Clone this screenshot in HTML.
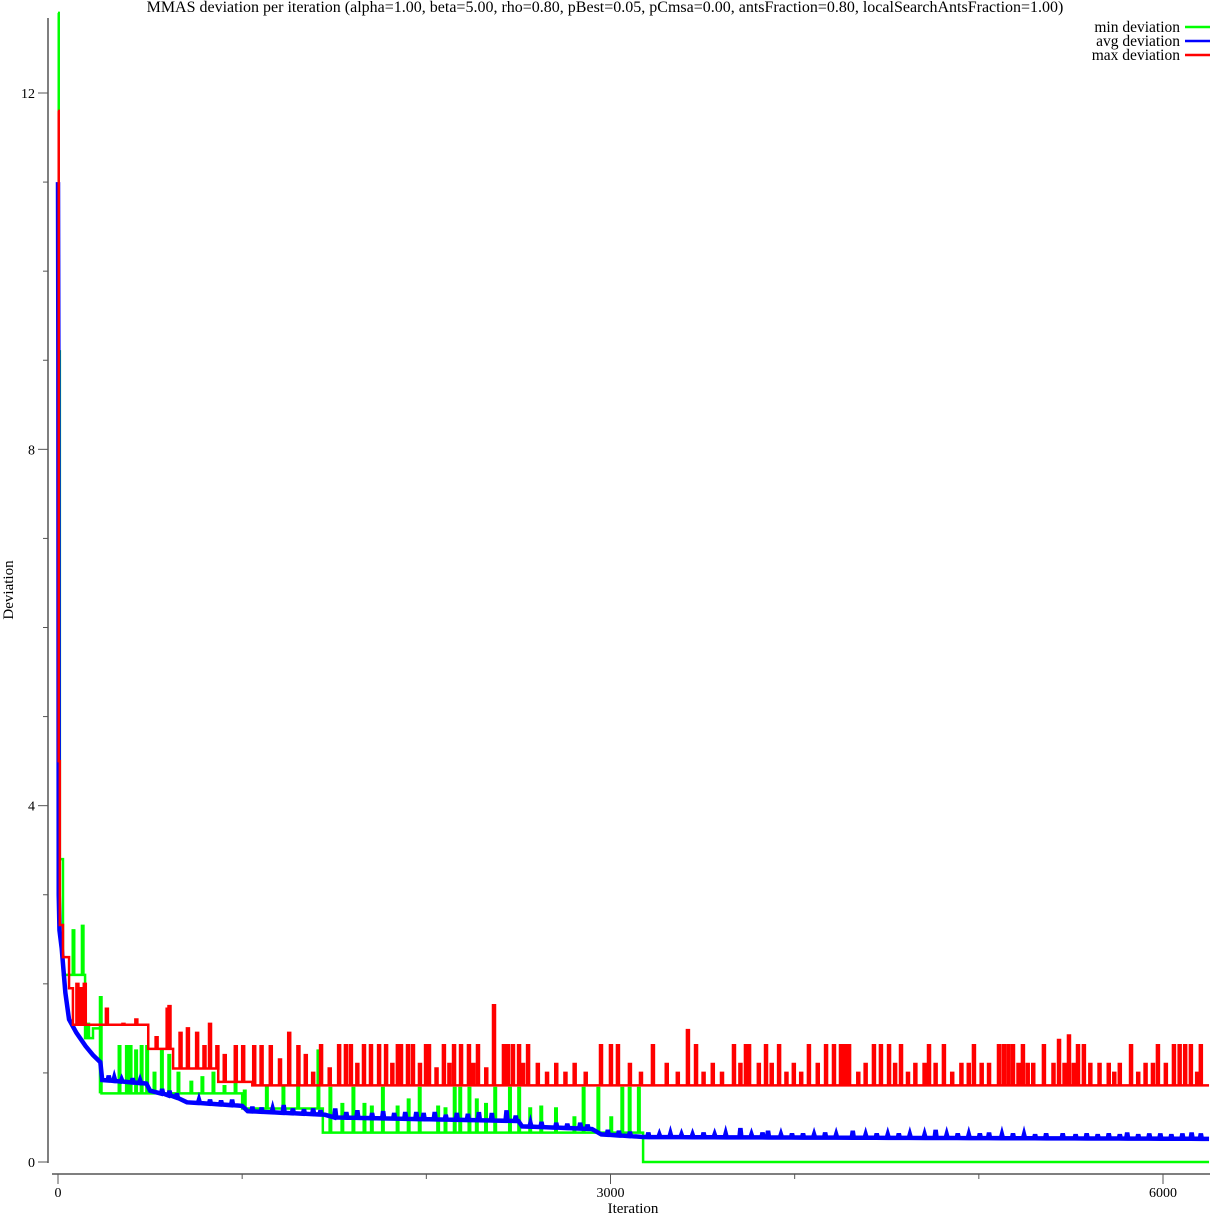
<!DOCTYPE html>
<html><head><meta charset="utf-8"><style>
html,body{margin:0;padding:0;background:#fff;}
svg{display:block;font-family:"Liberation Serif",serif;}
</style></head><body>
<svg id="chart" width="1218" height="1218" viewBox="0 0 1218 1218">
<text x="605" y="12" font-size="16" text-anchor="middle">MMAS deviation per iteration (alpha=1.00, beta=5.00, rho=0.80, pBest=0.05, pCmsa=0.00, antsFraction=0.80, localSearchAntsFraction=1.00)</text>
<g id="axes"></g>
<g id="series"></g>
<text x="633" y="1213" font-size="15" text-anchor="middle">Iteration</text>
<text x="13" y="590" font-size="15" text-anchor="middle" transform="rotate(-90 13 590)">Deviation</text>
<g>
<text x="1180" y="32" font-size="15.5" text-anchor="end">min deviation</text>
<line x1="1185" y1="27" x2="1210" y2="27" stroke="#00ff00" stroke-width="2.5"/>
<text x="1180" y="46" font-size="15.5" text-anchor="end">avg deviation</text>
<line x1="1185" y1="41" x2="1210" y2="41" stroke="#0000ff" stroke-width="2.5"/>
<text x="1180" y="60" font-size="15.5" text-anchor="end">max deviation</text>
<line x1="1185" y1="55" x2="1210" y2="55" stroke="#ff0000" stroke-width="2.5"/>
</g>
</svg>
<script>
// ---- data ----
const xTicksMajor = [0, 3000, 6000];
const xTicksMinor = [1000, 2000, 4000, 5000];
const yTicksMajor = [0, 4, 8, 12];
const yTicksMinor = [1, 2, 3, 5, 6, 7, 9, 10, 11];
const maxIter = 6250;
const minSteps = [[0,12.9],[4,9.1],[10,3.4],[27,2.1],[147,1.39],[190,1.5],[228,0.77],[1000,0.6],[1438,0.33],[3177,0]];
const maxSteps = [[0,11.8],[4,4.5],[10,2.66],[27,2.3],[60,1.95],[81,1.54],[490,1.27],[625,1.05],[870,0.9],[1055,0.86]];
const minSpikes = [[80,2.6],[130,2.65],[160,1.55],[228,1.85],[330,1.3],[370,1.3],[390,1.3],[420,1.25],[450,1.3],[480,1.3],[520,1.0],[560,1.25],[600,1.2],[650,1.0],[720,0.9],[780,0.95],[840,1.0],[900,0.85],[960,1.25],[1010,0.8],[1130,0.85],[1220,0.85],[1300,0.9],[1410,1.25],[1475,0.83],[1540,0.65],[1600,0.83],[1660,0.65],[1700,0.62],[1760,0.83],[1840,0.62],[1900,0.7],[1960,0.83],[2060,0.62],[2100,0.6],[2150,0.83],[2180,0.83],[2230,0.83],[2270,0.7],[2320,0.65],[2370,0.83],[2450,0.83],[2500,0.83],[2560,0.6],[2620,0.62],[2700,0.6],[2800,0.5],[2850,0.83],[2930,0.83],[3000,0.5],[3060,0.83],[3100,0.83],[3150,0.83]];
const maxSpikes = [[100,2.0],[120,1.95],[140,2.0],[260,1.72],[350,1.55],[420,1.6],[530,1.4],[590,1.72],[600,1.75],[660,1.45],[700,1.5],[750,1.45],[790,1.3],[820,1.55],[860,1.3],[900,1.2],[960,1.3],[1000,1.3],[1060,1.3],[1100,1.3],[1150,1.3],[1200,1.15],[1250,1.45],[1300,1.3],[1340,1.2],[1380,1.0],[1423,1.31],[1470,1.05],[1521,1.31],[1558,1.31],[1585,1.31],[1620,1.1],[1656,1.31],[1694,1.31],[1738,1.31],[1776,1.31],[1810,1.1],[1840,1.31],[1857,1.31],[1895,1.31],[1922,1.31],[1960,1.1],[1993,1.31],[2009,1.31],[2050,1.05],[2090,1.31],[2120,1.1],[2145,1.31],[2183,1.31],[2226,1.31],[2250,1.1],[2275,1.31],[2320,1.05],[2362,1.76],[2416,1.31],[2438,1.31],[2465,1.31],[2498,1.31],[2520,1.1],[2547,1.31],[2600,1.1],[2650,1.0],[2700,1.1],[2750,1.0],[2800,1.1],[2860,1.0],[2943,1.31],[2997,1.31],[3035,1.31],[3100,1.1],[3160,1.0],[3225,1.31],[3300,1.1],[3360,1.0],[3415,1.48],[3459,1.31],[3500,1.0],[3550,1.1],[3600,1.0],[3665,1.31],[3700,1.1],[3730,1.31],[3747,1.31],[3800,1.1],[3839,1.31],[3870,1.1],[3910,1.31],[3950,1.0],[3990,1.1],[4030,1.0],[4072,1.31],[4120,1.1],[4165,1.31],[4208,1.31],[4246,1.31],[4270,1.31],[4290,1.31],[4340,1.0],[4380,1.1],[4425,1.31],[4463,1.31],[4507,1.31],[4540,1.1],[4572,1.31],[4610,1.0],[4650,1.1],[4700,1.1],[4724,1.31],[4760,1.1],[4805,1.31],[4850,1.0],[4900,1.1],[4940,1.1],[4968,1.31],[5010,1.1],[5050,1.1],[5104,1.31],[5130,1.31],[5155,1.31],[5180,1.31],[5210,1.1],[5234,1.31],[5260,1.1],[5290,1.1],[5348,1.31],[5400,1.1],[5430,1.37],[5460,1.1],[5484,1.42],[5510,1.1],[5533,1.31],[5565,1.31],[5600,1.1],[5650,1.1],[5700,1.1],[5730,1.0],[5760,1.1],[5821,1.31],[5860,1.0],[5900,1.1],[5940,1.1],[5967,1.31],[6010,1.1],[6054,1.31],[6085,1.31],[6115,1.31],[6146,1.31],[6180,1.0],[6200,1.31]];
const avgAnchors = [[0,11],[2,9],[4,3],[8,2.6],[20,2.4],[40,1.9],[60,1.6],[100,1.45],[150,1.3],[190,1.2],[230,1.12],[240,0.92],[480,0.88],[500,0.8],[650,0.72],[700,0.67],[1000,0.63],[1030,0.57],[1450,0.53],[1500,0.5],[2500,0.46],[2520,0.4],[2900,0.37],[2950,0.31],[3180,0.28],[6250,0.26]];
const avgBumps = [[270,0.97],[300,0.95],[340,0.93],[400,0.94],[440,0.92],[560,0.82],[600,0.8],[640,0.77],[760,0.7],[820,0.7],[880,0.69],[940,0.7],[1050,0.62],[1100,0.61],[1160,0.6],[1220,0.64],[1270,0.6],[1330,0.59],[1380,0.6],[1420,0.58],[1500,0.6],[1560,0.56],[1620,0.58],[1700,0.55],[1760,0.57],[1820,0.55],[1880,0.56],[1940,0.56],[1980,0.55],[2040,0.56],[2100,0.53],[2160,0.55],[2220,0.54],[2280,0.56],[2350,0.55],[2430,0.58],[2480,0.52],[2560,0.44],[2620,0.45],[2700,0.44],[2760,0.43],[2830,0.44],[2870,0.42],[2980,0.36],[3040,0.35],[3100,0.34],[3200,0.33],[3260,0.31],[3320,0.32],[3380,0.31],[3440,0.31],[3500,0.33],[3560,0.31],[3620,0.32],[3700,0.38],[3760,0.31],[3820,0.33],[3850,0.35],[3920,0.31],[3980,0.32],[4040,0.32],[4100,0.31],[4160,0.33],[4220,0.31],[4310,0.35],[4380,0.31],[4440,0.32],[4500,0.31],[4560,0.32],[4620,0.31],[4700,0.31],[4760,0.36],[4820,0.31],[4880,0.32],[4940,0.31],[5000,0.32],[5050,0.33],[5120,0.31],[5180,0.32],[5240,0.31],[5300,0.31],[5360,0.32],[5450,0.32],[5520,0.31],[5580,0.32],[5640,0.31],[5700,0.32],[5760,0.31],[5800,0.33],[5860,0.31],[5920,0.32],[5980,0.32],[6040,0.31],[6100,0.32],[6150,0.33],[6200,0.32]];

// ---- axes functions ----
const X0=58, X1=1163, Y0=1162, Y12=93;
const xs = v => X0 + v*(X1-X0)/6000;
const ys = v => Y0 - v*(Y0-Y12)/12;
const NS='http://www.w3.org/2000/svg';
function mk(tag, attrs, parent){const e=document.createElementNS(NS,tag);for(const k in attrs)e.setAttribute(k,attrs[k]);parent.appendChild(e);return e;}
const axes=document.getElementById('axes');
let el;
el=mk('line',{x1:48,y1:18,x2:48,y2:1163,stroke:'#555','stroke-width':1.5},axes);


el=mk('line',{x1:52,y1:1174,x2:1210,y2:1174,stroke:'#555','stroke-width':1.5},axes);


yTicksMajor.forEach(v=>{
  const t=mk('line',{x1:38,y1:ys(v),x2:48,y2:ys(v),stroke:'#555','stroke-width':1},axes);
  
  
  const l=mk('text',{x:35,y:ys(v)+5,'font-size':14,'text-anchor':'end'},axes);
  l.textContent=v;
  
  
});
yTicksMinor.forEach(v=>{
  const t=mk('line',{x1:43,y1:ys(v),x2:48,y2:ys(v),stroke:'#555','stroke-width':1},axes);
  
  
});
xTicksMajor.forEach(v=>{
  const t=mk('line',{x1:xs(v),y1:1174,x2:xs(v),y2:1184,stroke:'#555','stroke-width':1},axes);
  
  
  const l=mk('text',{x:xs(v),y:1197,'font-size':14,'text-anchor':'middle'},axes);
  l.textContent=v;
  
  
});
xTicksMinor.forEach(v=>{
  const t=mk('line',{x1:xs(v),y1:1174,x2:xs(v),y2:1179,stroke:'#555','stroke-width':1},axes);
  
  
});

// ---- series ----
function stepPath(steps, spikes, w){
  const sp=spikes.slice().sort((a,b)=>a[0]-b[0]);
  const base=it=>{let v=steps[0][1];for(const s of steps){if(s[0]<=it)v=s[1];}return v;};
  let d='M'+xs(0)+','+ys(steps[0][1]);
  const pts=[];
  steps.forEach(s=>pts.push([s[0],'step']));
  sp.forEach(s=>pts.push([s[0],'spike',s[1]]));
  pts.sort((a,b)=>a[0]-b[0]);
  let cur=steps[0][1];
  pts.forEach(p=>{
    const x=xs(p[0]);
    if(p[1]==='step'){const v=base(p[0]);d+=' L'+x+','+ys(cur)+' L'+x+','+ys(v);cur=v;}
    else{const b=base(p[0]);d+=' L'+x+','+ys(b)+' L'+x+','+ys(p[2])+' L'+(x+w)+','+ys(p[2])+' L'+(x+w)+','+ys(b);}
  });
  d+=' L'+xs(maxIter)+','+ys(cur);
  return d;
}
function avgPath(){
  const interp=it=>{for(let i=1;i<avgAnchors.length;i++){const a=avgAnchors[i-1],b=avgAnchors[i];if(it<=b[0]){return a[1]+(b[1]-a[1])*(it-a[0])/(b[0]-a[0]);}}return avgAnchors[avgAnchors.length-1][1];};
  const its=[];
  avgAnchors.forEach(a=>its.push([a[0],null]));
  avgBumps.forEach(b=>its.push([b[0],b[1]]));
  its.sort((a,b)=>a[0]-b[0]);
  let d='';
  its.forEach((p,i)=>{
    const x=xs(p[0]);
    if(p[1]===null){d+=(i?' L':'M')+x+','+ys(interp(p[0]));}
    else{const b=interp(p[0]);d+=' L'+x+','+ys(b)+' L'+(x+1)+','+ys(p[1])+' L'+(x+2)+','+ys(b);}
  });
  return d;
}
const series=document.getElementById('series');
el=mk('path',{d:stepPath(minSteps,minSpikes,1.5),fill:'none',stroke:'#00ff00','stroke-width':2.5,'stroke-linejoin':'miter'},series);


el=mk('path',{d:avgPath(),fill:'none',stroke:'#0000ff','stroke-width':4.5,'stroke-linejoin':'miter'},series);


el=mk('path',{d:stepPath(maxSteps,maxSpikes,2),fill:'none',stroke:'#ff0000','stroke-width':2.5,'stroke-linejoin':'miter'},series);


</script>
</body></html>
